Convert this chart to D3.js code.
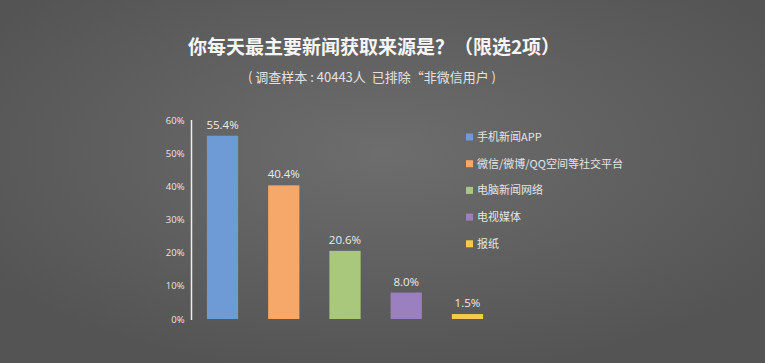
<!DOCTYPE html>
<html>
<head>
<meta charset="utf-8">
<script src="https://cdn.jsdelivr.net/npm/d3@7"></script>
<style>
  html, body { margin: 0; padding: 0; background: #565656; }
  svg { display: block; font-family: "Noto Sans CJK SC", "Open Sans", sans-serif; }
</style>
</head>
<body>
<div id="chart"></div>
<script>
var categories = ["手机新闻APP", "微信/微博/QQ空间等社交平台", "电脑新闻网络", "电视媒体", "报纸"];
var values = [55.4, 40.4, 20.6, 8.0, 1.5];
var colors = ["#6e9bd5", "#f6a86a", "#aac87b", "#9b80c0", "#f1cd4b"];
var yTicks = [0, 10, 20, 30, 40, 50, 60];
var title = "你每天最主要新闻获取来源是？（限选2项）";
var subtitle = "( 调查样本 : 40443人  已排除“非微信用户 )";

var width = 765, height = 363;

var svg = d3.select("#chart").append("svg")
	.attr("width", width)
	.attr("height", height);

// background with a soft light spot in the middle
var grad = svg.append("defs").append("radialGradient")
	.attr("id", "bg")
	.attr("cx", "50%").attr("cy", "42%").attr("r", "62%");
grad.append("stop").attr("offset", "0%").attr("stop-color", "#6d6d6d");
grad.append("stop").attr("offset", "100%").attr("stop-color", "#545454");
svg.append("rect")
	.attr("width", width)
	.attr("height", height)
	.attr("fill", "url(#bg)");

// titles
svg.append("text")
	.attr("x", 374)
	.attr("y", 54)
	.attr("text-anchor", "middle")
	.attr("fill", "#f6f6f6")
	.style("font-size", "19px")
	.style("font-weight", "bold")
	.text(title);

svg.append("text")
	.attr("x", 372)
	.attr("y", 82)
	.attr("text-anchor", "middle")
	.attr("fill", "#e2e2e2")
	.style("font-size", "13px")
	.style("white-space", "pre")
	.text(subtitle);

var x = d3.scaleBand()
	.domain(categories)
	.range([191, 499])
	.paddingInner(0.49)
	.paddingOuter(0.26);

var y = d3.scaleLinear()
	.domain([0, 60])
	.range([319, 120.5]);

// y axis
var yAxis = d3.axisLeft(y)
	.tickValues(yTicks)
	.tickFormat(function(d) { return d + "%"; })
	.tickSize(0)
	.tickPadding(7);

var gy = svg.append("g")
	.attr("transform", "translate(191.5,0)")
	.call(yAxis);
gy.select(".domain").remove();
gy.selectAll("text")
	.attr("fill", "#e6e6e6")
	.style("font-size", "9.5px")
	.style("font-family", "'Open Sans', sans-serif");
gy.append("line")
	.attr("x1", 0).attr("x2", 0)
	.attr("y1", 120).attr("y2", 320)
	.attr("stroke", "#eeeeee")
	.attr("stroke-width", 1.5);

// bars
svg.selectAll(".bar")
	.data(values)
  .enter().append("rect")
	.attr("class", "bar")
	.attr("x", function(d, i) { return x(categories[i]); })
	.attr("y", function(d) { return y(d); })
	.attr("width", x.bandwidth())
	.attr("height", function(d) { return y(0) - y(d); })
	.attr("fill", function(d, i) { return colors[i]; });

// value labels
svg.selectAll(".val")
	.data(values)
  .enter().append("text")
	.attr("class", "val")
	.attr("x", function(d, i) { return x(categories[i]) + x.bandwidth() / 2; })
	.attr("y", function(d) { return y(d) - 7; })
	.attr("text-anchor", "middle")
	.attr("fill", "#ececec")
	.style("font-size", "11.5px")
	.style("font-family", "'Open Sans', sans-serif")
	.text(function(d) { return d.toFixed(1) + "%"; });

// legend
var legend = svg.selectAll(".legend")
	.data(categories)
  .enter().append("g")
	.attr("class", "legend")
	.attr("transform", function(d, i) { return "translate(466," + (137 + i * 26.7) + ")"; });

legend.append("rect")
	.attr("x", 0)
	.attr("y", -3.5)
	.attr("width", 7)
	.attr("height", 7)
	.attr("fill", function(d, i) { return colors[i]; });

legend.append("text")
	.attr("x", 11)
	.attr("y", 4)
	.attr("fill", "#e4e4e4")
	.style("font-size", "11px")
	.text(function(d) { return d; });
</script>
</body>
</html>
